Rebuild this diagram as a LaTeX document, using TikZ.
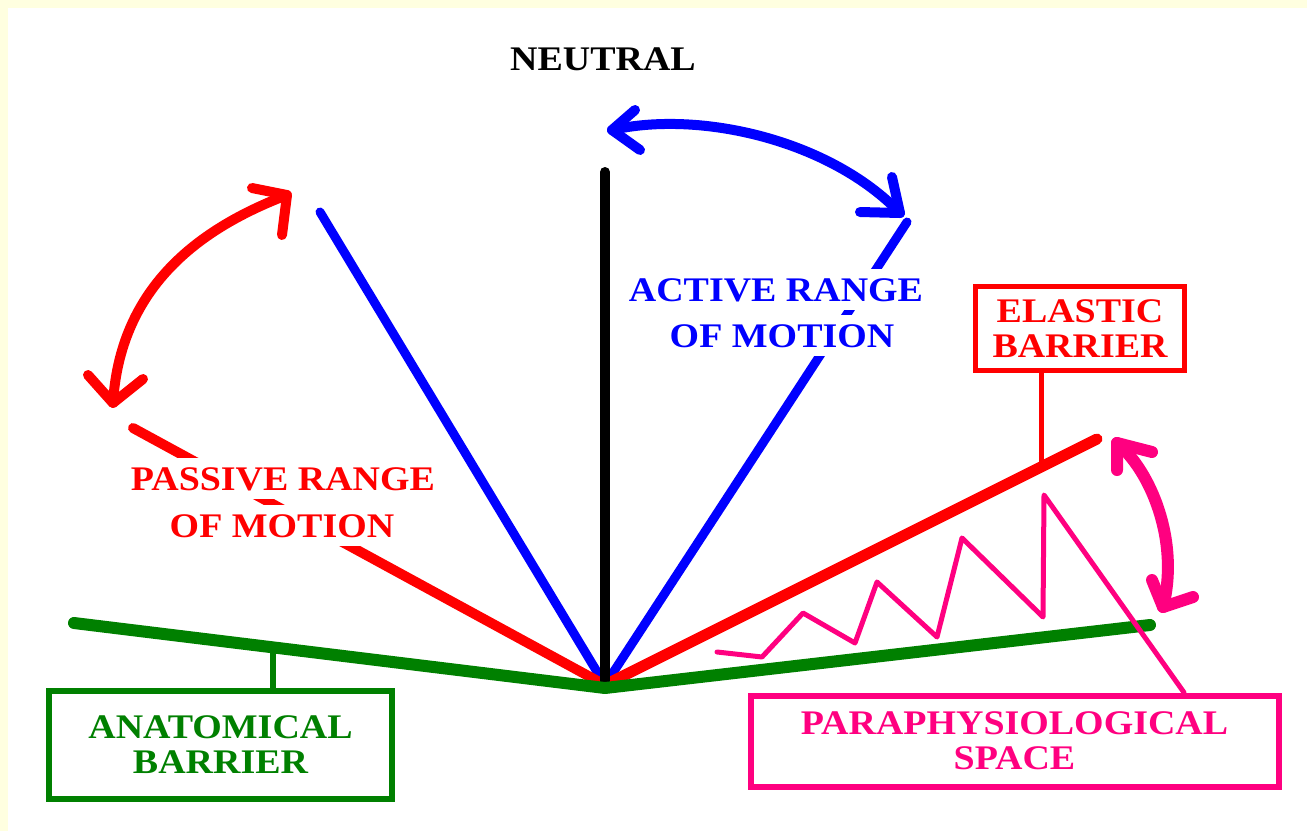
\documentclass[tikz,border=0pt]{standalone}
\usepackage{fontspec}
\setmainfont{Liberation Serif}[FakeStretch=1.1]
\definecolor{bgyellow}{RGB}{255,255,224}
\definecolor{pred}{RGB}{255,0,0}
\definecolor{pblue}{RGB}{0,0,255}
\definecolor{pgreen}{RGB}{0,128,0}
\definecolor{ppink}{RGB}{255,0,128}
\newcommand{\lblfont}{\fontsize{34.5}{35}\selectfont\bfseries}
\begin{document}
\begin{tikzpicture}[x=1pt,y=-1pt,
  lbl/.style={font=\lblfont, inner sep=0pt},
  knock/.style={lbl, fill=white, inner sep=1pt, text height=31pt, text depth=8pt, anchor=base},
  labelbox/.style={lbl, draw, line width=6pt, align=center},
  thick line/.style={line width=#1, line cap=round, line join=round},
  arrowstroke/.style={line width=#1, line cap=round, line join=round}
]
\useasboundingbox (0,0) rectangle (1307,831);
\fill[bgyellow] (0,0) rectangle (1307,831);
\fill[white] (8,8) rectangle (1307,831);

% key points
\coordinate (V) at (605,685);
\coordinate (nTop) at (605,172);
\coordinate (bL) at (320,212);
\coordinate (bR) at (907,222);
\coordinate (rL) at (133,428);
\coordinate (rR) at (1097,439);
\coordinate (gL) at (74,623);
\coordinate (gV) at (605,688);
\coordinate (gR) at (1150,625);
\coordinate (gA) at (273,648);
\coordinate (eA) at (1041,466);
\coordinate (pEnd) at (1184,692);

% blue, red and black lines
\draw[thick line=9pt, pblue] (bL) -- (V);
\draw[thick line=9pt, pblue] (bR) -- (V);
\draw[thick line=10pt, pred] (rL) -- (V);
\draw[thick line=11pt, pred] (rR) -- (V);
\draw[thick line=10pt, black] (nTop) -- (V);

% labels knocking out the lines behind them
\node[lbl, anchor=base] (neutral) at (603,70) {NEUTRAL};
\node[knock, text=pred] (passive1) at (283,490) {PASSIVE RANGE};
\node[knock, text=pred] (passive2) at (282,537) {OF MOTION};
\node[knock, text=pblue] (active1) at (776,301) {ACTIVE RANGE};
\node[knock, text=pblue] (active2) at (782,347) {OF MOTION};

% green anatomical line
\draw[thick line=12pt, pgreen] (gL) -- (gV) -- (gR);

% pink zigzag (paraphysiological space)
\node[labelbox, ppink, text=ppink, minimum width=528pt, minimum height=91pt] (pp) at (1014.5,741)
  {PARAPHYSIOLOGICAL\\SPACE};
\draw[thick line=5pt, ppink] (717,652) -- (762,657) -- (803,613) -- (855,643) -- (877,582)
  -- (937,637) -- (962,538) -- (1043,617) -- (1044,495) -- (pp.north -| pEnd);

% boxes
\node[labelbox, pgreen, text=pgreen, minimum width=343pt, minimum height=108pt] (anat) at (220.5,745)
  {ANATOMICAL\\BARRIER};
\draw[line width=6pt, pgreen] (anat.north -| gA) -- (gA);
\node[labelbox, pred, text=pred, line width=5pt, minimum width=209pt, minimum height=84pt] (elastic) at (1080,328.5)
  {ELASTIC\\BARRIER};
\draw[line width=5pt, pred] (elastic.south -| eA) -- (eA);

% red passive double arrow
\coordinate (ra1) at (287,195);
\coordinate (ra2) at (113,403);
\draw[arrowstroke=10pt, pred] (ra1) .. controls (195,230) and (120,290) .. (ra2);
\draw[arrowstroke=10pt, pred] (252,188) -- (ra1) -- (282,235);
\draw[arrowstroke=10pt, pred] (88,375) -- (ra2) -- (143,379);

% blue active double arrow
\coordinate (ba1) at (612,130);
\coordinate (ba2) at (900,213);
\draw[arrowstroke=10pt, pblue] (ba1) .. controls (700,110) and (830,140) .. (ba2);
\draw[arrowstroke=10pt, pblue] (635,110) -- (ba1) -- (640,150);
\draw[arrowstroke=10pt, pblue] (892,177) -- (ba2) -- (860,212);

% pink double arrow
\coordinate (pa1) at (1117,443);
\coordinate (pa2) at (1163,607);
\draw[arrowstroke=12pt, ppink] (pa1) .. controls (1150,470) and (1180,540) .. (pa2);
\draw[arrowstroke=12pt, ppink] (1152,452) -- (pa1) -- (1117,470);
\draw[arrowstroke=12pt, ppink] (1152,580) -- (pa2) -- (1193,597);
\end{tikzpicture}
\end{document}
